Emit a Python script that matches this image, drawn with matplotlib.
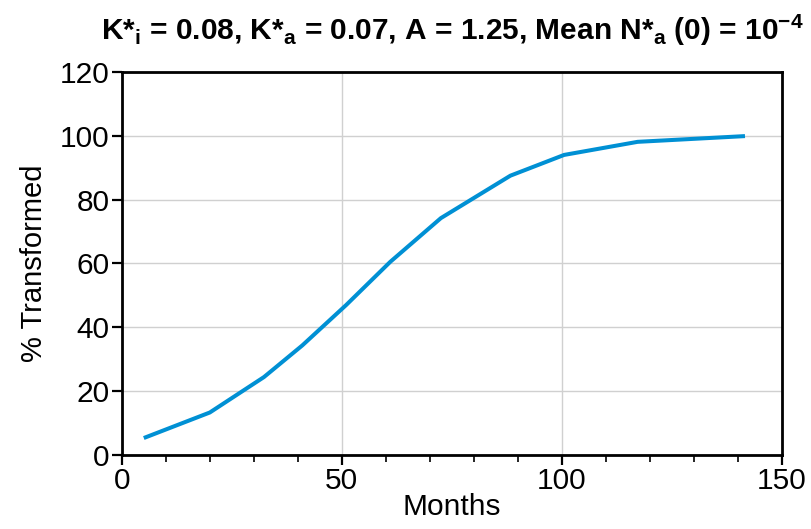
import numpy as np
import matplotlib.pyplot as plt
from matplotlib.ticker import MultipleLocator

# curve
months = [5, 20, 32.3, 41, 51, 61, 72.5, 88.3, 100.5, 117.2, 141.6]
pct_transformed = [5.3, 13.3, 24.4, 34.3, 47.0, 60.5, 74.2, 87.5, 94.0, 98.1, 99.9]

x_ticks = [0, 50, 100, 150]
y_ticks = [0, 20, 40, 60, 80, 100, 120]

plt.rcParams['font.family'] = ['Liberation Sans', 'DejaVu Sans']

fig = plt.figure(figsize=(8.12, 5.29), dpi=100)
ax = fig.add_axes([0.150, 0.140, 0.813, 0.724])

ax.plot(months, pct_transformed, color='#0090d4', linewidth=2.9, solid_capstyle='butt')

ax.set_xlim(0, 150)
ax.set_ylim(0, 120)
ax.set_xticks(x_ticks)
ax.set_yticks(y_ticks)
ax.xaxis.set_minor_locator(MultipleLocator(10))
ax.grid(True, color='#d0d0d0', linewidth=1.0)
ax.set_axisbelow(True)

for s in ax.spines.values():
    s.set_linewidth(2.0)
ax.tick_params(axis='both', which='major', labelsize=21.5, length=7, width=1.6, direction='out', pad=2)
ax.tick_params(axis='x', which='minor', length=5, width=1.2, direction='out')

ax.set_xlabel('Months', fontsize=21.5, labelpad=-2)
ax.set_ylabel('% Transformed', fontsize=21, labelpad=8)

title = (r'K*$\mathregular{_i}$ = 0.08, K*$\mathregular{_a}$ = 0.07, A = 1.25, '
         r'Mean N*$\mathregular{_a}$ (0) = 10$\mathregular{^{-4}}$')
ax.set_title(title, fontsize=21.5, fontweight='bold', pad=23)

fig.savefig('out.png', dpi=100)
